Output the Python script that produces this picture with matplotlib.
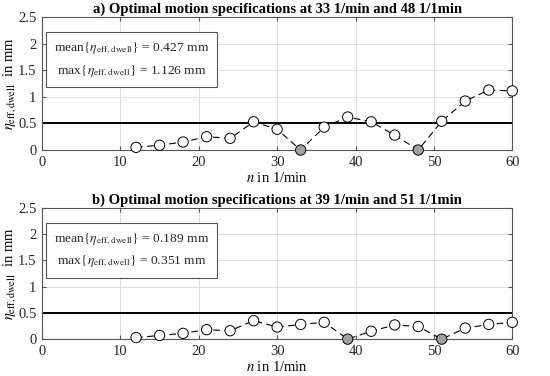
import matplotlib.pyplot as plt

plt.rcParams["font.family"] = ["Liberation Serif", "DejaVu Serif"]
plt.rcParams["mathtext.fontset"] = "stix"

n_vals = [12, 15, 18, 21, 24, 27, 30, 33, 36, 39, 42, 45, 48, 51, 54, 57, 60]

eta_a = [0.05, 0.09, 0.15, 0.25, 0.22, 0.53, 0.39, 0.0, 0.43, 0.62, 0.53, 0.28, 0.0, 0.54, 0.92, 1.126, 1.11]
opt_a = [33, 48]
title_a = "a) Optimal motion specifications at 33 1/min and 48 1/1min"
stats_a = ("0.427", "1.126")

eta_b = [0.03, 0.07, 0.11, 0.18, 0.16, 0.351, 0.23, 0.28, 0.32, 0.0, 0.15, 0.27, 0.24, 0.0, 0.21, 0.28, 0.32]
opt_b = [39, 51]
title_b = "b) Optimal motion specifications at 39 1/min and 51 1/1min"
stats_b = ("0.189", "0.351")

limit = 0.5

fig = plt.figure(figsize=(5.5, 3.76), dpi=100)
ax_a = fig.add_axes([0.0764, 0.601, 0.855, 0.354])
ax_b = fig.add_axes([0.0764, 0.098, 0.855, 0.35])


def draw(ax, eta, opt, title, stats):
    ax.grid(True, color="#dddddd", linewidth=0.7)
    ax.set_axisbelow(True)
    ax.axhline(limit, color="black", linewidth=1.4, zorder=2)
    ax.plot(n_vals, eta, color="black", linestyle=(0, (6, 4)), linewidth=0.8, zorder=3)
    face = ["#a0a0a0" if n in opt else "white" for n in n_vals]
    ax.scatter(n_vals, eta, s=55, c=face, edgecolors="black", linewidths=0.7, zorder=4, clip_on=False)
    ax.set_xlim(0, 60)
    ax.set_ylim(0, 2.5)
    ax.set_xticks(range(0, 61, 10))
    ax.set_yticks([0, 0.5, 1, 1.5, 2, 2.5])
    ax.set_yticklabels(["0", "0.5", "1", "1.5", "2", "2.5"])
    ax.tick_params(direction="in", labelsize=10.5, length=3, color="#555555", pad=4,
                   labelcolor="#262626", top=True, right=True)
    for s in ax.spines.values():
        s.set_color("#555555")
        s.set_linewidth(0.8)
    ax.set_title(title, fontsize=10.5, fontweight="bold", pad=3)
    ax.set_xlabel(r"$n$ in 1/min", fontsize=10.5, labelpad=2)
    ax.set_ylabel(r"$\eta_{\mathrm{eff,dwell}}$  in mm", fontsize=10.5, labelpad=0)
    txt = (r"mean$\{\eta_{\mathrm{eff,dwell}}\}$ = " + stats[0] + " mm\n"
           r" max$\{\eta_{\mathrm{eff,dwell}}\}$ = " + stats[1] + " mm")
    ax.text(0.025, 0.823, txt, transform=ax.transAxes, fontsize=9.7, va="top", ha="left",
            linespacing=1.65, color="#262626",
            bbox=dict(boxstyle="square,pad=0.6", facecolor="white", edgecolor="#555555", linewidth=0.8),
            zorder=5)


draw(ax_a, eta_a, opt_a, title_a, stats_a)
draw(ax_b, eta_b, opt_b, title_b, stats_b)

fig.savefig("out.png", dpi=100)
